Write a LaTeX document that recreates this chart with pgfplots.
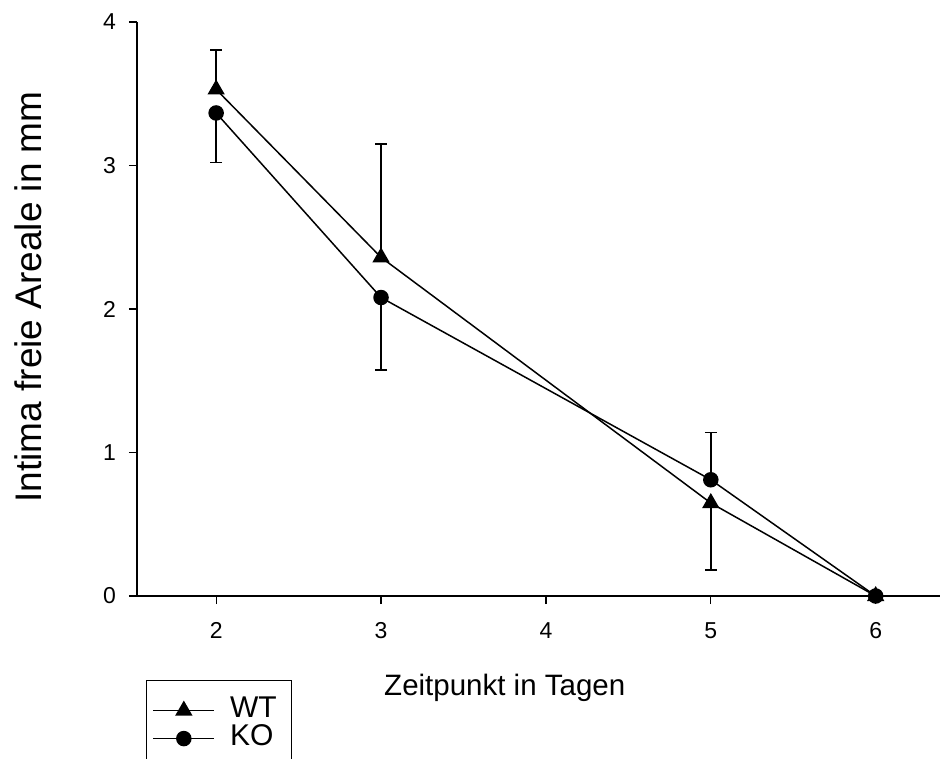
\documentclass[border=0pt]{standalone}
\usepackage{fontspec}
\setmainfont{Liberation Sans}
\usepackage{pgfplots}
\pgfplotsset{compat=1.18}
\begin{document}
\begin{tikzpicture}
\path[use as bounding box] (-137pt,-162pt) rectangle (807pt,596pt);
\begin{axis}[
  scale only axis,
  width=803pt, height=574pt,
  at={(0pt,0pt)}, anchor=south west,
  xmin=1.52, xmax=6.39, ymin=0, ymax=4,
  axis lines*=left,
  axis line style={line width=1.2pt},
  clip=false,
  xtick={2,3,4,5,6}, ytick={0,1,2,3,4},
  tick align=outside,
  major tick length=8pt,
  tick style={line width=1.2pt, black},
  /pgf/number format/assume math mode=true,
  tick label style={font=\fontsize{23}{27}\selectfont},
  yticklabel style={font=\fontsize{23}{27}\selectfont, inner sep=0pt, xshift=-13pt},
  xticklabel style={font=\fontsize{23}{27}\selectfont, inner sep=0pt, yshift=-18pt},
  ylabel={Intima freie Areale in mm},
  ylabel style={at={(axis description cs:-0.119,0.521)}, anchor=base, inner sep=0pt, rotate=0, font=\fontsize{37}{44}\selectfont},
  xlabel={Zeitpunkt in Tagen},
  xlabel style={at={(axis description cs:0.458,-0.174)}, anchor=base, inner sep=0pt, font=\fontsize{29.5}{35}\selectfont},
  legend style={at={(axis description cs:0.0112,-0.1463)}, anchor=north west,
    draw=black, line width=1.2pt, inner xsep=6pt, inner ysep=16pt,
    font=\fontsize{30}{28}\selectfont, row sep=0pt,
    nodes={inner sep=0pt, text height=21pt, text depth=7pt},
    column sep=15pt},
  legend cell align=left,
  legend image code/.code={\draw[mark repeat=2,mark phase=2] plot coordinates {(0pt,0pt) (30.5pt,0pt) (61pt,0pt)};},
]
% error bars (one-directional)
\addplot[draw=none, forget plot, error bars/.cd, y dir=plus, y explicit,
  error bar style={line width=1.5pt, black}, error mark options={rotate=90, mark size=6pt, line width=1.5pt}]
  table[x=x, y=y, y error=e] {
x y e
2 3.53 0.275
3 2.36 0.79
};
\addplot[draw=none, forget plot, error bars/.cd, y dir=minus, y explicit,
  error bar style={line width=1.5pt, black}, error mark options={rotate=90, mark size=6pt, line width=1.5pt}]
  table[x=x, y=y, y error=e] {
x y e
5 0.648 0.467
};
\addplot[draw=none, forget plot, error bars/.cd, y dir=minus, y explicit,
  error bar style={line width=1.5pt, black}, error mark options={rotate=90, mark size=6pt, line width=1.5pt}]
  table[x=x, y=y, y error=e] {
x y e
2 3.366 0.346
3 2.08 0.505
};
\addplot[draw=none, forget plot, error bars/.cd, y dir=plus, y explicit,
  error bar style={line width=1.5pt, black}, error mark options={rotate=90, mark size=6pt, line width=1.5pt}]
  table[x=x, y=y, y error=e] {
x y e
5 0.81 0.33
};
% series
\addplot[black, line width=1.5pt, mark=triangle*, mark size=8.5pt, mark options={solid, fill=black}]
  table[x=x, y=y] {
x y
2 3.53
3 2.36
5 0.648
6 0
};
\addlegendentry{WT\rule{9pt}{0pt}}
\addplot[black, line width=1.5pt, mark=*, mark size=7pt, mark options={solid, fill=black}]
  table[x=x, y=y] {
x y
2 3.366
3 2.08
5 0.81
6 0
};
\addlegendentry{KO\rule{9pt}{0pt}}
\end{axis}
\end{tikzpicture}
\end{document}
